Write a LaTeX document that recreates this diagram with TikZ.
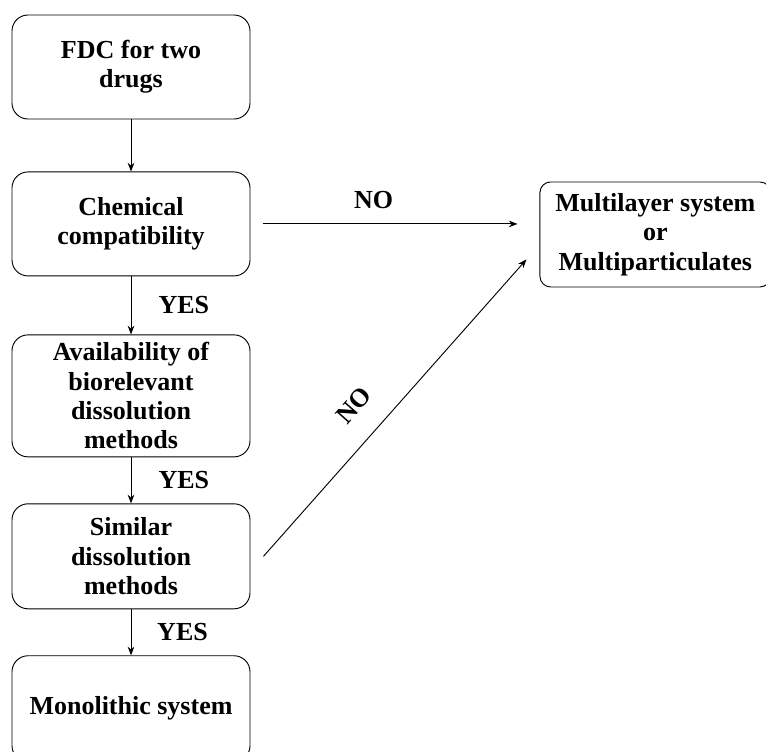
\documentclass[tikz,border=0pt]{standalone}
\usepackage{fontspec}
\setmainfont{Liberation Serif}
\usetikzlibrary{positioning,arrows.meta}

\begin{document}
\begin{tikzpicture}[->,>={Stealth[length=6.5pt,width=5pt]},line width=0.7pt,
                    every node/.style={font=\fontsize{19.5}{22}\selectfont\bfseries},
                    stage/.style={draw,rounded corners=12pt,align=center,minimum width=178.5pt,
                                  minimum height=78pt,inner sep=2pt},
                    outcome/.style={draw,rounded corners=8pt,align=center,minimum width=173pt,
                                    minimum height=78.75pt,inner sep=2pt},
                    answer/.style={draw=none}]

  \useasboundingbox (0,0) rectangle (574.5pt,-563.25pt);

  \node[stage] (fdc) at (98.25pt,-50.25pt) {FDC for two\\drugs};
  \node[stage] (chem) [below=39pt of fdc] {Chemical\\compatibility};
  \node[stage,minimum height=91.5pt] (avail) [below=43.5pt of chem] {Availability of\\biorelevant\\dissolution\\methods};
  \node[stage,minimum height=78.75pt] (similar) [below=34.5pt of avail] {Similar\\dissolution\\methods};
  \node[stage,minimum height=79.5pt] (mono) [below=34.5pt of similar] {Monolithic system};
  \node[outcome] (multi) [right=216.75pt of chem,yshift=-7.9pt] {Multilayer system\\or\\Multiparticulates};


  \path (fdc) edge (chem)
        (chem) edge node [answer,right=17pt] {YES} (avail)
        (avail) edge node [answer,right=17pt] {YES} (similar)
        (similar) edge node [answer,right=16pt] {YES} (mono);

  \draw[shorten <=9.75pt,shorten >=16.5pt] (chem.east) -- (chem.east -| multi.west)
        node [answer,pos=0.426,above=8pt] {NO};
  \draw ([xshift=9.75pt]similar.east) -- ([xshift=-9.75pt,yshift=21pt]multi.south west)
        node [answer,sloped,pos=0.436,above=14pt] {NO};
\end{tikzpicture}
\end{document}
